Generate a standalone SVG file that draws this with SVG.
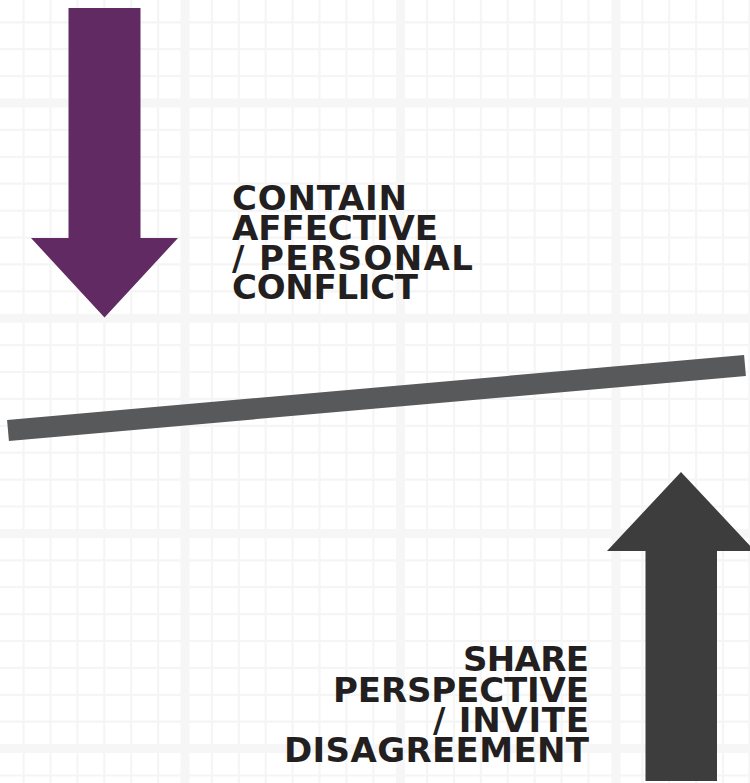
<svg xmlns="http://www.w3.org/2000/svg" width="750" height="783" viewBox="0 0 750 783">
<style>
.minor{stroke:#f5f5f5;stroke-width:2.2;fill:none}
.major{stroke:#f6f6f6;stroke-width:9;fill:none}
.lbl{font-family:"DejaVu Sans",sans-serif;font-weight:bold;font-size:34px;fill:#231f20}
</style>
<rect width="750" height="783" fill="#ffffff"/>
<g id="grid">
<path class="minor" d="M23.6,0V783M50.5,0V783M77.4,0V783M104.3,0V783M131.2,0V783M158.1,0V783M211.9,0V783M238.8,0V783M265.7,0V783M292.6,0V783M319.5,0V783M346.4,0V783M373.3,0V783M427.1,0V783M454,0V783M480.9,0V783M507.8,0V783M534.7,0V783M561.6,0V783M588.5,0V783M642.3,0V783M669.2,0V783M696.1,0V783M723,0V783M749.5,0V783"/>
<path class="minor" d="M0,22.3H750M0,49.2H750M0,76.1H750M0,129.9H750M0,156.8H750M0,183.7H750M0,210.6H750M0,237.5H750M0,264.4H750M0,291.3H750M0,345.1H750M0,372H750M0,398.9H750M0,425.8H750M0,452.7H750M0,479.6H750M0,506.5H750M0,560.3H750M0,587.2H750M0,614.1H750M0,641H750M0,667.9H750M0,694.8H750M0,721.7H750M0,775.5H750"/>
<path class="major" d="M185,0V783M400.5,0V783M616,0V783M0,103H750M0,318.2H750M0,533.4H750M0,748.6H750"/>
</g>
<g id="bar">
<line x1="8" y1="430.5" x2="745" y2="365.5" stroke="#58595b" stroke-width="21"/>
</g>
<g id="arrow-down">
<path d="M68.5,8H140.5V238H178L104.5,317.5L31,238H68.5Z" fill="#612a62"/>
</g>
<g id="arrow-up">
<path d="M645.5,781H717V551H755L681,472L607,551H645.5Z" fill="#3d3d3d"/>
</g>
<g id="label-contain">
<text class="lbl" x="232" y="210" textLength="175" lengthAdjust="spacing">CONTAIN</text>
<text class="lbl" x="232" y="240" textLength="206" lengthAdjust="spacing">AFFECTIVE</text>
<text class="lbl" x="232" y="269.5" textLength="241" lengthAdjust="spacing">/ PERSONAL</text>
<text class="lbl" x="232" y="299" textLength="186" lengthAdjust="spacing">CONFLICT</text>
</g>
<g id="label-share">
<text class="lbl" x="589" y="671" text-anchor="end" textLength="126" lengthAdjust="spacing">SHARE</text>
<text class="lbl" x="589" y="702" text-anchor="end" textLength="256" lengthAdjust="spacing">PERSPECTIVE</text>
<text class="lbl" x="589" y="732" text-anchor="end" textLength="156" lengthAdjust="spacing">/ INVITE</text>
<text class="lbl" x="589" y="762" text-anchor="end" textLength="305" lengthAdjust="spacing">DISAGREEMENT</text>
</g>
</svg>
